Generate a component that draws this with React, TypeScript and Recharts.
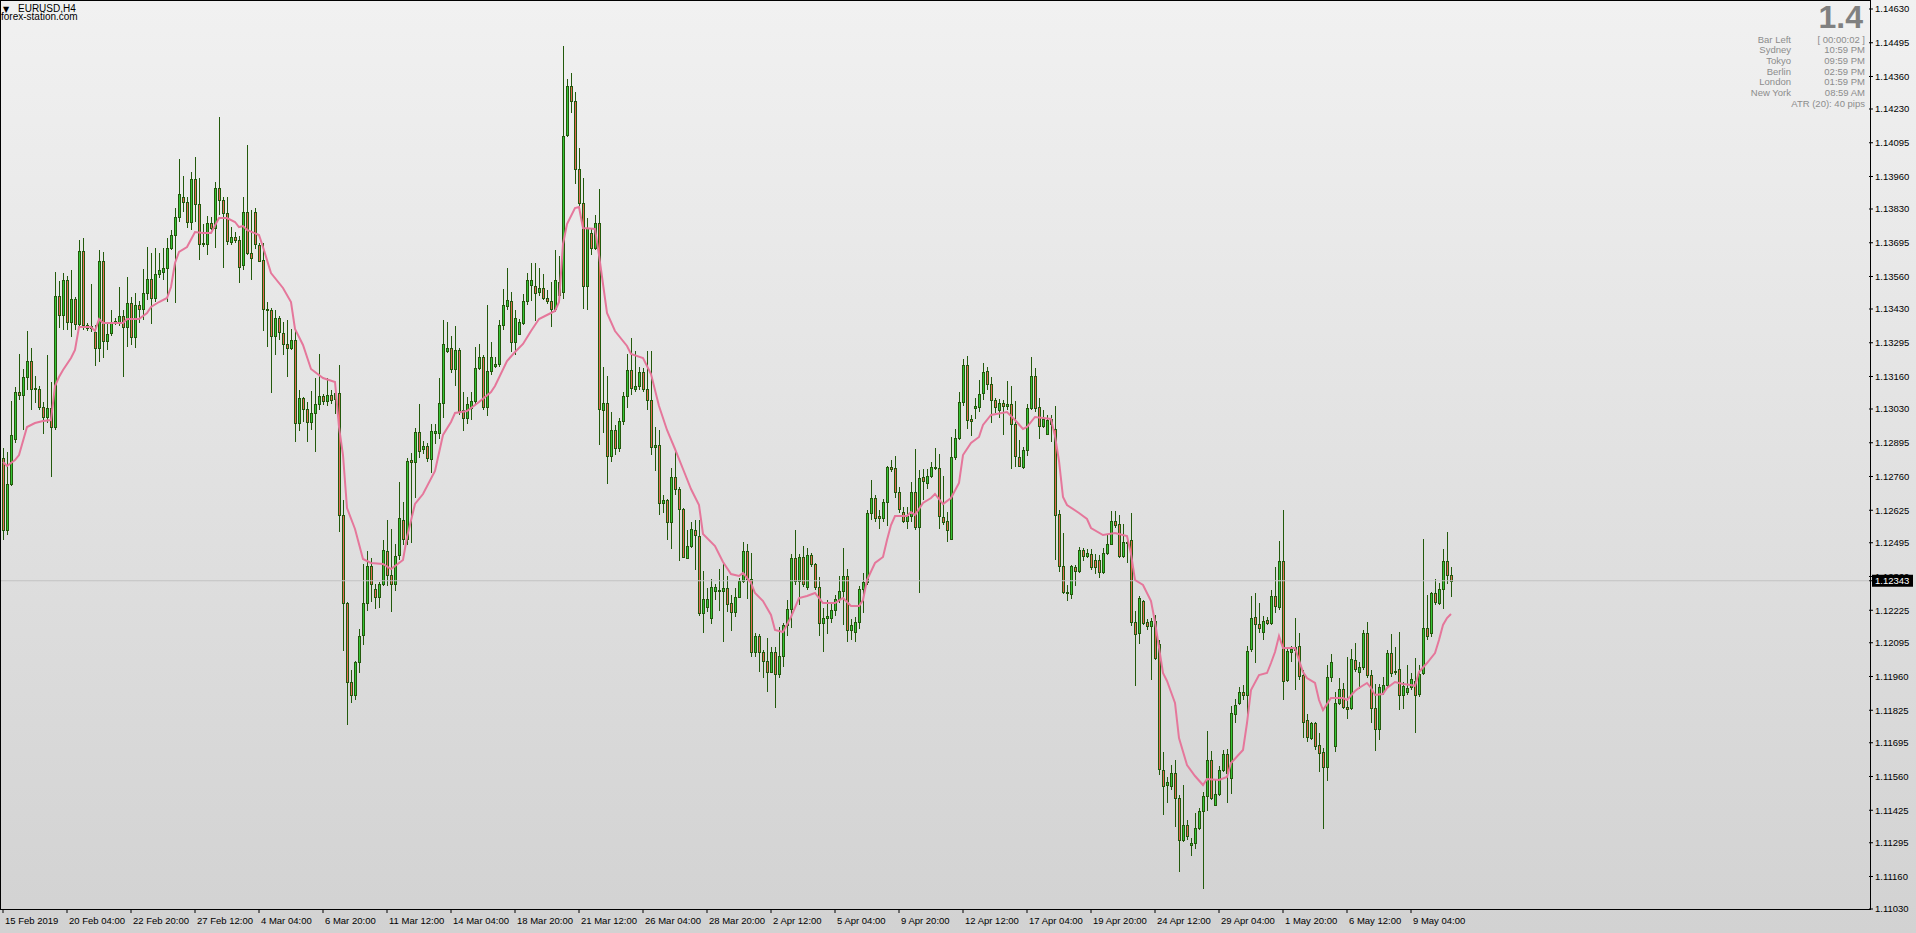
import { ComposedChart, Bar, Line, XAxis, YAxis, ReferenceLine } from 'recharts';

// EURUSD H4 candles, 15 Feb 2019 .. 10 May 2019
const opens = [
  1.12834,1.12546,1.12730,1.12910,1.13098,1.13086,1.13158,1.13222,1.13110,1.13110,
  1.13038,1.12998,1.13034,1.12958,1.13482,1.13406,1.13546,1.13378,1.13470,1.13370,
  1.13662,1.13366,1.13354,1.13338,1.13274,1.13622,1.13302,1.13334,1.13378,1.13378,
  1.13402,1.13358,1.13454,1.13318,1.13446,1.13430,1.13494,1.13550,1.13474,1.13570,
  1.13578,1.13594,1.13674,1.13726,1.13798,1.13878,1.13858,1.13778,1.13950,1.13850,
  1.13690,1.13690,1.13774,1.13754,1.13914,1.13866,1.13814,1.13698,1.13718,1.13706,
  1.13606,1.13818,1.13654,1.13818,1.13686,1.13626,1.13430,1.13426,1.13322,1.13394,
  1.13334,1.13290,1.13274,1.13306,1.12974,1.13074,1.13030,1.12978,1.13014,1.13050,
  1.13082,1.13062,1.13086,1.13070,1.13094,1.12606,1.12254,1.11938,1.11886,1.12018,
  1.12126,1.12254,1.12402,1.12310,1.12278,1.12330,1.12462,1.12366,1.12330,1.12446,
  1.12586,1.12510,1.12826,1.12818,1.12938,1.12870,1.12882,1.12830,1.12934,1.12934,
  1.13054,1.13262,1.13274,1.13190,1.13266,1.13026,1.12994,1.13034,1.13062,1.13194,
  1.13238,1.13038,1.13182,1.13202,1.13210,1.13366,1.13442,1.13462,1.13298,1.13330,
  1.13374,1.13462,1.13526,1.13522,1.13498,1.13514,1.13474,1.13462,1.13430,1.13486,
  1.13498,1.14126,1.14322,1.14262,1.13990,1.13854,1.13522,1.13734,1.13674,1.13774,
  1.13026,1.13054,1.12842,1.12946,1.12874,1.12982,1.13082,1.13186,1.13110,1.13122,
  1.13178,1.13110,1.13066,1.12878,1.12886,1.12654,1.12666,1.12578,1.12758,1.12710,
  1.12630,1.12434,1.12482,1.12546,1.12522,1.12214,1.12238,1.12194,1.12302,1.12306,
  1.12302,1.12314,1.12254,1.12218,1.12278,1.12342,1.12462,1.12350,1.12058,1.12122,
  1.12058,1.12022,1.11978,1.12058,1.11970,1.12042,1.12166,1.12230,1.12434,1.12342,
  1.12438,1.12318,1.12446,1.12410,1.12318,1.12174,1.12194,1.12194,1.12226,1.12270,
  1.12302,1.12362,1.12146,1.12138,1.12178,1.12310,1.12338,1.12614,1.12674,1.12602,
  1.12594,1.12658,1.12798,1.12794,1.12698,1.12618,1.12582,1.12602,1.12698,1.12558,
  1.12758,1.12734,1.12762,1.12794,1.12794,1.12598,1.12582,1.12510,1.12838,1.12914,
  1.13058,1.13206,1.12990,1.13034,1.13038,1.13094,1.13182,1.13130,1.13066,1.13026,
  1.13054,1.13042,1.13050,1.12970,1.12838,1.12798,1.12866,1.13034,1.13162,1.13038,
  1.12962,1.12930,1.12990,1.12950,1.12610,1.12402,1.12298,1.12290,1.12398,1.12382,
  1.12466,1.12442,1.12450,1.12426,1.12426,1.12378,1.12454,1.12490,1.12582,1.12570,
  1.12442,1.12498,1.12506,1.12178,1.12134,1.12262,1.12178,1.12162,1.12182,1.12090,
  1.11586,1.11526,1.11522,1.11574,1.11474,1.11306,1.11366,1.11286,1.11294,1.11354,
  1.11422,1.11482,1.11626,1.11446,1.11490,1.11586,1.11650,1.11554,1.11810,1.11854,
  1.11898,1.11886,1.12070,1.12198,1.12170,1.12138,1.12186,1.12174,1.12282,1.12238,
  1.12422,1.11946,1.12058,1.12066,1.12082,1.11966,1.11786,1.11714,1.11774,1.11686,
  1.11658,1.11598,1.11958,1.11682,1.11854,1.11910,1.11838,1.11834,1.12026,1.11978,
  1.11998,1.12134,1.11966,1.11834,1.11750,1.11898,1.11926,1.12054,1.11978,1.11990,
  1.11886,1.11898,1.11918,1.11942,1.11890,1.11974,1.12154,1.12134,1.12294,1.12254,
  1.12310,1.12422,1.12366,
];

const highs = [
  1.12874,1.12858,1.13062,1.13118,1.13250,1.13190,1.13342,1.13274,1.13162,1.13122,
  1.13058,1.13246,1.13138,1.13578,1.13542,1.13574,1.13562,1.13586,1.13478,1.13706,
  1.13714,1.13374,1.13530,1.13366,1.13666,1.13658,1.13374,1.13426,1.13394,1.13518,
  1.13426,1.13558,1.13478,1.13494,1.13462,1.13590,1.13678,1.13654,1.13674,1.13654,
  1.13674,1.13714,1.13746,1.13834,1.14030,1.13962,1.13878,1.13978,1.14038,1.13954,
  1.13770,1.13802,1.13798,1.13938,1.14198,1.13878,1.13878,1.13758,1.13738,1.13722,
  1.13878,1.14086,1.13826,1.13834,1.13694,1.13694,1.13458,1.13434,1.13426,1.13402,
  1.13378,1.13386,1.13350,1.13342,1.13106,1.13078,1.13058,1.13102,1.13154,1.13250,
  1.13090,1.13154,1.13106,1.13106,1.13206,1.12666,1.12258,1.11986,1.12022,1.12150,
  1.12410,1.12462,1.12434,1.12330,1.12338,1.12506,1.12586,1.12550,1.12490,1.12738,
  1.12658,1.12834,1.12854,1.12954,1.13050,1.12902,1.12894,1.12970,1.12970,1.13154,
  1.13386,1.13378,1.13322,1.13362,1.13274,1.13098,1.13078,1.13098,1.13278,1.13290,
  1.13246,1.13446,1.13298,1.13238,1.13386,1.13510,1.13594,1.13498,1.13426,1.13390,
  1.13490,1.13574,1.13614,1.13614,1.13594,1.13570,1.13506,1.13538,1.13666,1.13642,
  1.14482,1.14350,1.14374,1.14298,1.14074,1.13954,1.13794,1.13754,1.13806,1.13910,
  1.13198,1.13162,1.13018,1.12966,1.12994,1.13098,1.13250,1.13314,1.13262,1.13198,
  1.13194,1.13262,1.13262,1.12958,1.12946,1.12686,1.12670,1.12794,1.12858,1.12718,
  1.12634,1.12546,1.12578,1.12586,1.12586,1.12382,1.12314,1.12350,1.12330,1.12390,
  1.12418,1.12362,1.12286,1.12314,1.12354,1.12498,1.12490,1.12454,1.12134,1.12130,
  1.12066,1.12114,1.12078,1.12078,1.12158,1.12174,1.12266,1.12450,1.12546,1.12450,
  1.12482,1.12474,1.12454,1.12414,1.12358,1.12234,1.12266,1.12250,1.12286,1.12362,
  1.12474,1.12390,1.12190,1.12198,1.12322,1.12374,1.12626,1.12746,1.12686,1.12626,
  1.12670,1.12802,1.12826,1.12842,1.12718,1.12638,1.12638,1.12738,1.12870,1.12786,
  1.12790,1.12790,1.12818,1.12874,1.12850,1.12762,1.12618,1.12918,1.12950,1.13098,
  1.13230,1.13242,1.13006,1.13074,1.13146,1.13214,1.13198,1.13158,1.13074,1.13070,
  1.13066,1.13142,1.13122,1.13062,1.12906,1.12878,1.13050,1.13238,1.13194,1.13074,
  1.13026,1.13006,1.13006,1.13042,1.12626,1.12534,1.12326,1.12406,1.12406,1.12478,
  1.12474,1.12470,1.12470,1.12450,1.12446,1.12474,1.12526,1.12622,1.12622,1.12606,
  1.12570,1.12522,1.12614,1.12222,1.12282,1.12266,1.12190,1.12194,1.12206,1.12106,
  1.11658,1.11558,1.11606,1.11626,1.11486,1.11526,1.11386,1.11314,1.11414,1.11434,
  1.11498,1.11742,1.11662,1.11550,1.11602,1.11666,1.11670,1.11842,1.11870,1.11918,
  1.11926,1.12082,1.12282,1.12294,1.12254,1.12202,1.12198,1.12306,1.12398,1.12502,
  1.12626,1.12074,1.12082,1.12194,1.12134,1.11986,1.11810,1.11778,1.11778,1.11734,
  1.11674,1.12006,1.12050,1.11898,1.11954,1.11934,1.12038,1.12070,1.12094,1.12018,
  1.12146,1.12178,1.11986,1.11930,1.11930,1.11958,1.12066,1.12130,1.12078,1.12138,
  1.11938,1.12006,1.11974,1.12034,1.12006,1.12510,1.12286,1.12298,1.12350,1.12334,
  1.12470,1.12538,1.12398,
];

const lows = [
  1.12506,1.12526,1.12722,1.12894,1.13066,1.12946,1.13106,1.13026,1.13054,1.13026,
  1.12930,1.12974,1.12758,1.12946,1.13354,1.13346,1.13346,1.13318,1.13346,1.13354,
  1.13346,1.13342,1.13338,1.13202,1.13218,1.13234,1.13266,1.13322,1.13366,1.13362,
  1.13158,1.13278,1.13286,1.13274,1.13374,1.13386,1.13466,1.13370,1.13458,1.13554,
  1.13546,1.13458,1.13666,1.13454,1.13778,1.13818,1.13754,1.13746,1.13778,1.13626,
  1.13678,1.13646,1.13746,1.13674,1.13806,1.13594,1.13686,1.13686,1.13694,1.13534,
  1.13586,1.13646,1.13546,1.13670,1.13618,1.13342,1.13278,1.13094,1.13246,1.13306,
  1.13246,1.13158,1.13266,1.12898,1.12942,1.12978,1.12898,1.12946,1.12858,1.13026,
  1.13046,1.13042,1.13050,1.13010,1.12538,1.12062,1.11766,1.11854,1.11866,1.11974,
  1.12086,1.12222,1.12258,1.12230,1.12234,1.12322,1.12322,1.12218,1.12302,1.12426,
  1.12486,1.12486,1.12494,1.12674,1.12834,1.12850,1.12818,1.12774,1.12890,1.12910,
  1.12994,1.13254,1.13174,1.13122,1.13006,1.12942,1.12970,1.12986,1.13046,1.13186,
  1.13026,1.13002,1.13166,1.13194,1.13198,1.13346,1.13426,1.13258,1.13246,1.13326,
  1.13366,1.13446,1.13462,1.13382,1.13482,1.13466,1.13450,1.13358,1.13418,1.13466,
  1.13470,1.14118,1.14214,1.13930,1.13826,1.13430,1.13426,1.13646,1.13666,1.12886,
  1.12934,1.12730,1.12818,1.12846,1.12858,1.12966,1.13034,1.13086,1.13098,1.13106,
  1.13098,1.13026,1.12846,1.12782,1.12606,1.12614,1.12506,1.12470,1.12686,1.12422,
  1.12434,1.12430,1.12474,1.12386,1.12202,1.12134,1.12218,1.12170,1.12266,1.12222,
  1.12098,1.12218,1.12142,1.12198,1.12274,1.12334,1.12270,1.12038,1.12038,1.11978,
  1.11954,1.11898,1.11974,1.11834,1.11954,1.11998,1.12122,1.12154,1.12326,1.12246,
  1.12318,1.12306,1.12398,1.12306,1.12122,1.12058,1.12130,1.12174,1.12202,1.12254,
  1.12166,1.12098,1.12106,1.12098,1.12150,1.12214,1.12326,1.12586,1.12578,1.12550,
  1.12578,1.12562,1.12778,1.12674,1.12614,1.12574,1.12550,1.12578,1.12546,1.12294,
  1.12666,1.12710,1.12754,1.12786,1.12550,1.12566,1.12498,1.12506,1.12826,1.12906,
  1.13042,1.12950,1.12922,1.12990,1.13018,1.13066,1.13106,1.12974,1.13014,1.12994,
  1.12926,1.13026,1.12790,1.12798,1.12798,1.12790,1.12842,1.13026,1.13018,1.12910,
  1.12954,1.12926,1.12898,1.12426,1.12378,1.12290,1.12262,1.12270,1.12322,1.12374,
  1.12422,1.12434,1.12386,1.12370,1.12354,1.12370,1.12446,1.12486,1.12554,1.12434,
  1.12434,1.12414,1.12162,1.11922,1.12090,1.12166,1.12146,1.11946,1.12026,1.11566,
  1.11406,1.11454,1.11506,1.11358,1.11178,1.11298,1.11306,1.11242,1.11270,1.11346,
  1.11110,1.11422,1.11466,1.11442,1.11482,1.11578,1.11454,1.11490,1.11774,1.11846,
  1.11866,1.11778,1.12058,1.12014,1.12134,1.12106,1.12166,1.12166,1.12214,1.12226,
  1.11866,1.11938,1.12018,1.11906,1.11946,1.11714,1.11698,1.11706,1.11666,1.11578,
  1.11350,1.11542,1.11938,1.11658,1.11846,1.11830,1.11790,1.11826,1.11978,1.11910,
  1.11986,1.11954,1.11774,1.11662,1.11706,1.11886,1.11914,1.11958,1.11966,1.11826,
  1.11830,1.11886,1.11906,1.11734,1.11878,1.11966,1.12106,1.12118,1.12246,1.12246,
  1.12230,1.12330,1.12278,
];

const closes = [
  1.12546,1.12730,1.12926,1.13098,1.13086,1.13158,1.13222,1.13110,1.13114,1.13038,
  1.12998,1.13034,1.12958,1.13482,1.13406,1.13546,1.13378,1.13470,1.13370,1.13662,
  1.13366,1.13354,1.13362,1.13274,1.13622,1.13302,1.13330,1.13378,1.13382,1.13402,
  1.13358,1.13454,1.13318,1.13446,1.13430,1.13494,1.13550,1.13474,1.13570,1.13586,
  1.13594,1.13674,1.13726,1.13798,1.13890,1.13858,1.13778,1.13950,1.13850,1.13690,
  1.13694,1.13774,1.13754,1.13914,1.13866,1.13814,1.13702,1.13718,1.13706,1.13598,
  1.13818,1.13654,1.13634,1.13690,1.13622,1.13430,1.13426,1.13322,1.13394,1.13338,
  1.13290,1.13274,1.13306,1.12974,1.13074,1.13030,1.12978,1.13014,1.13050,1.13082,
  1.13062,1.13086,1.13066,1.13094,1.12606,1.12254,1.11938,1.11886,1.12018,1.12122,
  1.12254,1.12402,1.12330,1.12278,1.12330,1.12466,1.12366,1.12330,1.12442,1.12594,
  1.12510,1.12822,1.12818,1.12938,1.12862,1.12882,1.12834,1.12942,1.12942,1.13054,
  1.13290,1.13274,1.13190,1.13266,1.13022,1.12994,1.13050,1.13062,1.13194,1.13238,
  1.13038,1.13182,1.13238,1.13210,1.13366,1.13446,1.13466,1.13298,1.13394,1.13378,
  1.13462,1.13546,1.13546,1.13494,1.13514,1.13474,1.13462,1.13430,1.13546,1.13538,
  1.14122,1.14322,1.14262,1.13990,1.13854,1.13522,1.13754,1.13674,1.13774,1.13030,
  1.13054,1.12842,1.12946,1.12874,1.12982,1.13082,1.13186,1.13114,1.13122,1.13178,
  1.13110,1.13066,1.12878,1.12886,1.12654,1.12666,1.12578,1.12758,1.12710,1.12630,
  1.12438,1.12482,1.12550,1.12526,1.12214,1.12270,1.12270,1.12318,1.12318,1.12302,
  1.12314,1.12250,1.12218,1.12278,1.12342,1.12462,1.12350,1.12058,1.12122,1.12058,
  1.12022,1.11978,1.12058,1.11970,1.12042,1.12166,1.12230,1.12434,1.12342,1.12438,
  1.12330,1.12446,1.12410,1.12318,1.12174,1.12194,1.12202,1.12226,1.12270,1.12302,
  1.12362,1.12146,1.12166,1.12178,1.12310,1.12338,1.12614,1.12674,1.12594,1.12594,
  1.12658,1.12798,1.12790,1.12698,1.12630,1.12582,1.12602,1.12698,1.12558,1.12754,
  1.12742,1.12762,1.12798,1.12798,1.12602,1.12578,1.12546,1.12838,1.12914,1.13058,
  1.13206,1.12986,1.12982,1.13042,1.13090,1.13178,1.13130,1.13066,1.13038,1.13054,
  1.13042,1.13050,1.12970,1.12842,1.12802,1.12866,1.13034,1.13162,1.13034,1.12962,
  1.12990,1.12986,1.12970,1.12606,1.12402,1.12298,1.12294,1.12402,1.12382,1.12466,
  1.12442,1.12454,1.12398,1.12398,1.12378,1.12454,1.12490,1.12582,1.12566,1.12442,
  1.12498,1.12494,1.12178,1.12130,1.12274,1.12174,1.12162,1.12182,1.12034,1.11590,
  1.11522,1.11538,1.11574,1.11474,1.11306,1.11366,1.11322,1.11294,1.11354,1.11422,
  1.11482,1.11626,1.11474,1.11490,1.11586,1.11650,1.11574,1.11814,1.11846,1.11898,
  1.11886,1.12062,1.12194,1.12170,1.12154,1.12182,1.12174,1.12282,1.12242,1.12422,
  1.11942,1.12062,1.12070,1.12078,1.11962,1.11778,1.11718,1.11774,1.11682,1.11654,
  1.11598,1.11958,1.12018,1.11854,1.11910,1.11838,1.11830,1.12030,1.11990,1.11998,
  1.12134,1.11966,1.11834,1.11750,1.11918,1.11926,1.12054,1.11974,1.11982,1.11886,
  1.11922,1.11914,1.11950,1.11886,1.11970,1.12154,1.12122,1.12294,1.12258,1.12310,
  1.12422,1.12366,1.12342,
];

// moving average, sampled at these bars
const maBars = [
  0,1,3,4,6,8,10,12,13,14,15,17,18,19,22,23,24,25,30,31,34,36,37,39,41,42,43,44,46,48,
  50,52,54,56,58,59,60,61,64,65,67,70,72,73,75,77,80,83,84,85,86,88,90,92,95,97,100,101,103,105,
  108,110,112,113,116,119,122,123,126,128,130,132,134,136,138,139,140,141,143,144,145,148,149,151,153,156,157,160,162,164,
  166,168,170,172,174,175,178,180,182,184,185,187,188,190,192,193,195,197,199,201,203,205,208,210,212,214,215,216,218,220,
  221,222,223,226,227,228,230,232,233,235,237,239,240,242,244,245,247,251,253,255,256,258,262,263,264,265,266,269,271,272,
  275,278,281,282,283,285,287,288,290,291,293,294,296,298,300,301,304,306,307,310,311,312,314,316,317,318,319,320,323,325,
  326,328,329,330,332,335,336,338,339,341,342,343,345,346,348,350,352,353,354,356,358,359,360,361,362,
];
const maPrices = [
  1.12818,1.12802,1.12826,1.12846,1.12958,1.12974,1.12982,1.12986,1.13122,1.13158,1.13186,1.13234,1.13266,1.13358,1.13358,1.13342,1.13390,1.13374,1.13374,1.13390,1.13390,1.13414,1.13438,1.13458,1.13474,1.13518,1.13614,1.13658,1.13678,1.13738,
  1.13734,1.13734,1.13794,1.13794,1.13778,1.13758,1.13762,1.13746,1.13726,1.13678,1.13574,1.13514,1.13458,1.13350,1.13286,1.13190,1.13154,1.13138,1.12958,1.12846,1.12634,1.12550,1.12430,1.12414,1.12410,1.12390,1.12426,1.12518,1.12650,1.12690,
  1.12782,1.12926,1.12978,1.13014,1.13022,1.13058,1.13098,1.13122,1.13222,1.13258,1.13290,1.13342,1.13390,1.13406,1.13422,1.13458,1.13690,1.13770,1.13834,1.13838,1.13754,1.13750,1.13646,1.13414,1.13342,1.13282,1.13250,1.13234,1.13170,1.13042,
  1.12946,1.12870,1.12790,1.12710,1.12646,1.12530,1.12482,1.12418,1.12370,1.12362,1.12374,1.12334,1.12294,1.12262,1.12206,1.12146,1.12138,1.12198,1.12274,1.12282,1.12294,1.12254,1.12254,1.12274,1.12242,1.12242,1.12266,1.12346,1.12414,1.12438,
  1.12506,1.12566,1.12602,1.12602,1.12618,1.12606,1.12654,1.12674,1.12690,1.12650,1.12674,1.12734,1.12846,1.12894,1.12918,1.12966,1.13006,1.13018,1.12986,1.12950,1.12958,1.12998,1.12990,1.12922,1.12822,1.12678,1.12646,1.12614,1.12590,1.12554,
  1.12526,1.12534,1.12522,1.12450,1.12346,1.12326,1.12262,1.12178,1.11974,1.11942,1.11854,1.11714,1.11606,1.11562,1.11526,1.11550,1.11546,1.11558,1.11614,1.11666,1.11774,1.11906,1.11966,1.11974,1.12014,1.12058,1.12122,1.12074,1.12074,1.11978,
  1.11954,1.11934,1.11866,1.11826,1.11874,1.11874,1.11866,1.11902,1.11914,1.11934,1.11914,1.11886,1.11890,1.11914,1.11938,1.11930,1.11926,1.11922,1.11978,1.12014,1.12054,1.12106,1.12166,1.12194,1.12210,
];

const timeLabels = [
  '15 Feb 2019', '20 Feb 04:00', '22 Feb 20:00', '27 Feb 12:00', '4 Mar 04:00', '6 Mar 20:00',
  '11 Mar 12:00', '14 Mar 04:00', '18 Mar 20:00', '21 Mar 12:00', '26 Mar 04:00', '28 Mar 20:00',
  '2 Apr 12:00', '5 Apr 04:00', '9 Apr 20:00', '12 Apr 12:00', '17 Apr 04:00', '19 Apr 20:00',
  '24 Apr 12:00', '29 Apr 04:00', '1 May 20:00', '6 May 12:00', '9 May 04:00',
];

const priceTicks = [
  1.1463, 1.14495, 1.1436, 1.1423, 1.14095, 1.1396, 1.1383, 1.13695, 1.1356, 1.1343,
  1.13295, 1.1316, 1.1303, 1.12895, 1.1276, 1.12625, 1.12495, 1.1236, 1.12225, 1.12095,
  1.1196, 1.11825, 1.11695, 1.1156, 1.11425, 1.11295, 1.1116, 1.1103,
];
const lastPrice = 1.12343;

const clockNames = ['Bar Left', 'Sydney', 'Tokyo', 'Berlin', 'London', 'New York'];
const clockValues = ['[ 00:00:02 ]', '10:59 PM', '09:59 PM', '02:59 PM', '01:59 PM', '08:59 AM'];

const SLOTS = 467; // bars that fit across the window, the rest is empty space on the right
const LABEL_STEP = 16;
const FONT = 'Liberation Sans, Arial, sans-serif';
const WICK = '#235a0c';
const BULL = '#36c436';
const BEAR = '#e36a52';

const data = Array.from({ length: SLOTS }, (_, i) => {
  if (i >= opens.length) return { i };
  const k = maBars.indexOf(i);
  return {
    i,
    o: opens[i],
    h: highs[i],
    l: lows[i],
    c: closes[i],
    range: [lows[i], highs[i]],
    ma: k >= 0 ? maPrices[k] : null,
  };
});

const labelIdx = timeLabels.map((_, k) => k * LABEL_STEP);

function Candle(props: any) {
  const { x, y, width, height, payload } = props;
  if (!payload || payload.o == null || isNaN(y) || isNaN(height)) return <g />;
  const top = Math.min(y, y + height);
  const span = Math.abs(height);
  const rng = payload.h - payload.l;
  const toY = (p: number) => (rng > 0 ? top + ((payload.h - p) / rng) * span : top);
  const cx = Math.floor(x + width / 2 + 0.01);
  const yo = toY(payload.o);
  const yc = toY(payload.c);
  const bTop = Math.round(Math.min(yo, yc));
  const bBot = Math.round(Math.max(yo, yc));
  const up = payload.c >= payload.o;
  return (
    <g shapeRendering="crispEdges">
      <rect x={cx} y={Math.round(top)} width={1} height={Math.max(1, Math.round(span))} fill={WICK} />
      <rect x={cx - 1} y={bTop} width={3} height={Math.max(1, bBot - bTop + 1)} fill={WICK} />
      {bBot - bTop >= 2 && (
        <rect x={cx} y={bTop + 1} width={1} height={bBot - bTop - 1} fill={up ? BULL : BEAR} />
      )}
    </g>
  );
}

function TimeTick(props: any) {
  const { x, y, payload } = props;
  const label = timeLabels[Math.round(payload.value / LABEL_STEP)];
  return (
    <text x={x + 2} y={y} dy="0.71em" fontSize={9.5} fontFamily={FONT} fill="#000">
      {label}
    </text>
  );
}

function PriceTick(props: any) {
  const { x, y, payload } = props;
  const v = payload.value;
  if (v === lastPrice) {
    return (
      <g>
        <rect x={x - 3} y={y - 6} width={41} height={12} fill="#000" />
        <text x={x} y={y} dy="0.35em" fontSize={9.5} fontFamily={FONT} fill="#fff">
          {v.toFixed(5)}
        </text>
      </g>
    );
  }
  return (
    <text x={x} y={y} dy="0.35em" fontSize={9.5} fontFamily={FONT} fill="#000">
      {v.toFixed(5)}
    </text>
  );
}

export default function App() {
  return (
    <div
      style={{
        position: 'absolute',
        left: 0,
        top: 0,
        width: 1916,
        height: 933,
        overflow: 'hidden',
        background: 'linear-gradient(to bottom, #f1f1f1, #d2d2d2)',
      }}
    >
      <ComposedChart width={1916} height={933} data={data} margin={{ top: 1, right: 0, bottom: 0, left: 1 }}>
        <XAxis
          dataKey="i"
          type="category"
          ticks={labelIdx}
          interval={0}
          height={24}
          axisLine={false}
          tickLine={{ stroke: '#000' }}
          tickSize={4}
          tickMargin={4}
          tick={<TimeTick />}
        />
        <YAxis
          orientation="right"
          type="number"
          domain={[1.1103, 1.14662]}
          allowDataOverflow
          ticks={[...priceTicks, lastPrice]}
          interval={0}
          width={47}
          axisLine={false}
          tickLine={{ stroke: '#000' }}
          tickSize={4}
          tickMargin={2}
          tick={<PriceTick />}
        />
        <ReferenceLine y={lastPrice} stroke="#c2c2c2" strokeWidth={1} />
        <Bar dataKey="range" barSize={3} shape={Candle} isAnimationActive={false} />
        <Line
          dataKey="ma"
          type="linear"
          stroke="#e5779b"
          strokeWidth={2}
          dot={false}
          activeDot={false}
          connectNulls
          isAnimationActive={false}
        />
      </ComposedChart>

      <div
        style={{
          position: 'absolute',
          left: 0,
          top: 0,
          width: 1871,
          height: 910,
          boxSizing: 'border-box',
          border: '1px solid #000',
          pointerEvents: 'none',
        }}
      />

      <svg width={1916} height={933} style={{ position: 'absolute', left: 0, top: 0, pointerEvents: 'none' }}>
        <text x={3} y={12} fontSize={8} fontFamily="DejaVu Sans, sans-serif" fill="#000">▼</text>
        <text x={18} y={12} fontSize={10} fontFamily={FONT} fill="#000">EURUSD,H4</text>
        <text x={1} y={20} fontSize={10} fontFamily={FONT} fill="#000">forex-station.com</text>

        <text x={1863} y={28} fontSize={32} fontWeight="bold" fontFamily={FONT} fill="#808080" textAnchor="end">
          1.4
        </text>
        {clockNames.map((name, k) => (
          <g key={name}>
            <text x={1791} y={42.8 + k * 10.67} fontSize={9.5} fontFamily={FONT} fill="#8c8c8c" textAnchor="end">
              {name}
            </text>
            <text x={1865} y={42.8 + k * 10.67} fontSize={9.5} fontFamily={FONT} fill="#8c8c8c" textAnchor="end">
              {clockValues[k]}
            </text>
          </g>
        ))}
        <text x={1865} y={106.8} fontSize={9.5} fontFamily={FONT} fill="#8c8c8c" textAnchor="end">
          ATR (20): 40 pips
        </text>
      </svg>
    </div>
  );
}
